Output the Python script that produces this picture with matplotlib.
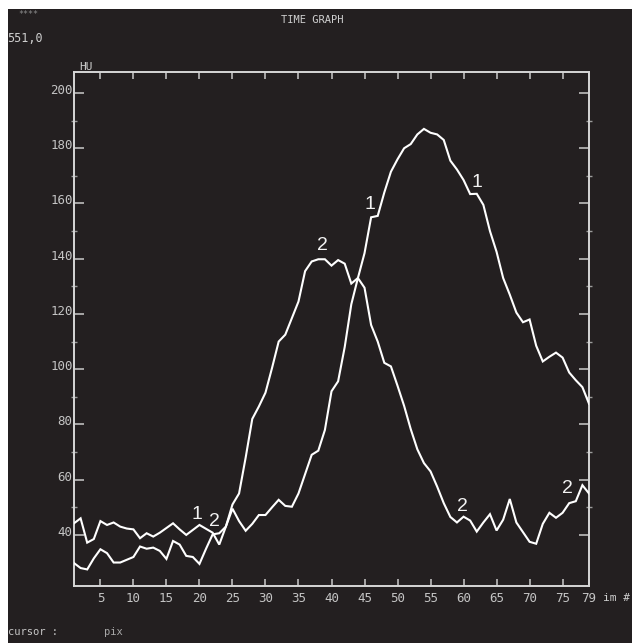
import matplotlib
matplotlib.use("Agg")
import matplotlib.pyplot as plt
from matplotlib.transforms import ScaledTranslation
from matplotlib.ticker import FixedLocator

# ---------------- data ----------------
frames = list(range(1, 80))

curve1 = [44.2, 46.0, 37.2, 38.5, 45.0, 43.6, 44.5, 43.0, 42.3, 42.0,
          38.8, 40.6, 39.4, 40.8, 42.5, 44.2, 42.0, 40.0, 41.8, 43.6,
          42.2, 40.8, 36.5, 43.0, 49.5, 45.0, 41.5, 44.0, 47.2, 47.2,
          50.0, 52.7, 50.5, 50.2, 55.0, 62.0, 69.0, 70.5, 78.0, 92.0,
          95.6, 108.0, 123.5, 133.0, 142.0, 155.0, 155.5, 164.0, 171.5, 176.0,
          180.0, 181.5, 185.0, 187.0, 185.6, 185.0, 183.0, 175.5, 172.3, 168.5,
          163.4, 163.5, 159.5, 150.0, 142.5, 133.0, 127.0, 120.5, 117.0, 118.0,
          108.5, 102.8, 104.5, 106.0, 104.2, 98.8, 96.0, 93.5, 87.5]

curve2 = [29.8, 28.0, 27.5, 31.5, 34.8, 33.4, 30.0, 30.0, 31.0, 32.0,
          35.8, 35.0, 35.4, 34.2, 31.3, 37.8, 36.5, 32.4, 32.0, 29.5,
          35.0, 40.2, 40.6, 43.0, 51.0, 55.0, 68.0, 82.0, 86.5, 91.5,
          100.5, 110.0, 112.5, 118.5, 124.5, 135.5, 139.0, 139.8, 139.8, 137.5,
          139.5, 138.2, 131.0, 133.0, 129.5, 116.0, 110.0, 102.3, 101.0, 94.0,
          86.7, 78.3, 71.0, 66.0, 63.0, 57.5, 51.5, 46.5, 44.5, 46.6,
          45.2, 41.2, 44.5, 47.5, 41.6, 45.5, 53.0, 44.5, 41.0, 37.5,
          36.8, 44.0, 48.0, 46.2, 48.0, 51.5, 52.2, 58.0, 55.0]

x_ticks = [5, 10, 15, 20, 25, 30, 35, 40, 45, 50, 55, 60, 65, 70, 75, 79]
x_tick_labels = ["5", "10", "15", "20", "25", "30", "35", "40", "45", "50",
                 "55", "60", "65", "70", "75", "79"]
y_ticks = [40, 60, 80, 100, 120, 140, 160, 180, 200]
y_tick_labels = ["40", "60", "80", "100", "120", "140", "160", "180", "200"]
y_minor = [50, 70, 90, 110, 130, 150, 170, 190]

# curve label annotations: (text, frame, value)
curve_labels = [("1", 19.6, 47.5), ("2", 22.2, 45.0),
                ("1", 45.8, 159.5), ("1", 62.0, 167.5),
                ("2", 38.6, 144.8), ("2", 59.8, 50.2), ("2", 75.7, 56.8)]

# ---------------- figure ----------------
W, H = 640, 643
BG = "#231f20"
GRAY = "#c4c4c4"
fig = plt.figure(figsize=(W / 100, H / 100), dpi=100)
fig.patch.set_facecolor("white")
bg = fig.add_axes([8 / W, 0, (632 - 8) / W, (H - 9) / H], zorder=-10)
bg.set_facecolor(BG)
bg.set_xticks([])
bg.set_yticks([])
for s in bg.spines.values():
    s.set_visible(False)

ax = fig.add_axes([74 / W, 1 - 586 / H, 515 / W, 514 / H], zorder=1)
ax.set_facecolor(BG)
ax.set_xlim(1, 79)
ax.set_ylim(21.5, 207.6)

for s in ax.spines.values():
    s.set_color("#d6d6d6")
    s.set_linewidth(1.4)

mono = "DejaVu Sans Mono"

ax.set_xticks(x_ticks)
ax.set_xticklabels(x_tick_labels, fontsize=9, color=GRAY, family=mono)
ax.set_yticks(y_ticks)
ax.set_yticklabels(y_tick_labels, fontsize=9, color=GRAY, family=mono)
ax.yaxis.set_minor_locator(FixedLocator(y_minor))
ax.tick_params(axis="x", which="major", direction="in", length=5, width=1.2,
               color="#bdbdbd", pad=4, top=True)
ax.tick_params(axis="y", which="major", direction="in", length=7, width=1.2,
               color="#bdbdbd", pad=1, right=True)
ax.tick_params(axis="y", which="minor", direction="inout", length=4, width=1.0,
               color="#9a9a9a", right=True)
for lab in ax.get_yticklabels():
    lab.set_transform(lab.get_transform() + ScaledTranslation(0, 4 / 100, fig.dpi_scale_trans))

ax.plot(frames, curve1, color="white", lw=1.5, solid_joinstyle="miter", zorder=3)
ax.plot(frames, curve2, color="white", lw=1.5, solid_joinstyle="miter", zorder=3)

for t, fx, fy in curve_labels:
    ax.text(fx, fy, t, color="#f2f2f2", fontsize=14, family="Liberation Sans",
            ha="center", va="center", zorder=4)

# ---------------- screen texts ----------------
def ftext(px, py, s, size, color=GRAY, ha="left"):
    fig.text(px / W, 1 - py / H, s, fontsize=size, color=color, family=mono,
             ha=ha, va="center", zorder=5)

ftext(312, 20, "TIME GRAPH", 7.5, "#d0d0d0", ha="center")
ftext(18, 15, "****", 6, "#8a8a8a")
ftext(7, 39, "551,0", 8.5, "#cfcfcf")
ftext(79, 67, "HU", 8, "#cfcfcf")
ftext(603, 598, "im #", 8, "#cfcfcf")
ftext(8, 632, "cursor :", 7.5, "#c8c8c8")
ftext(104, 632, "pix", 7.5, "#a8a8a8")

fig.savefig("out.png", dpi=100, facecolor=fig.get_facecolor())
